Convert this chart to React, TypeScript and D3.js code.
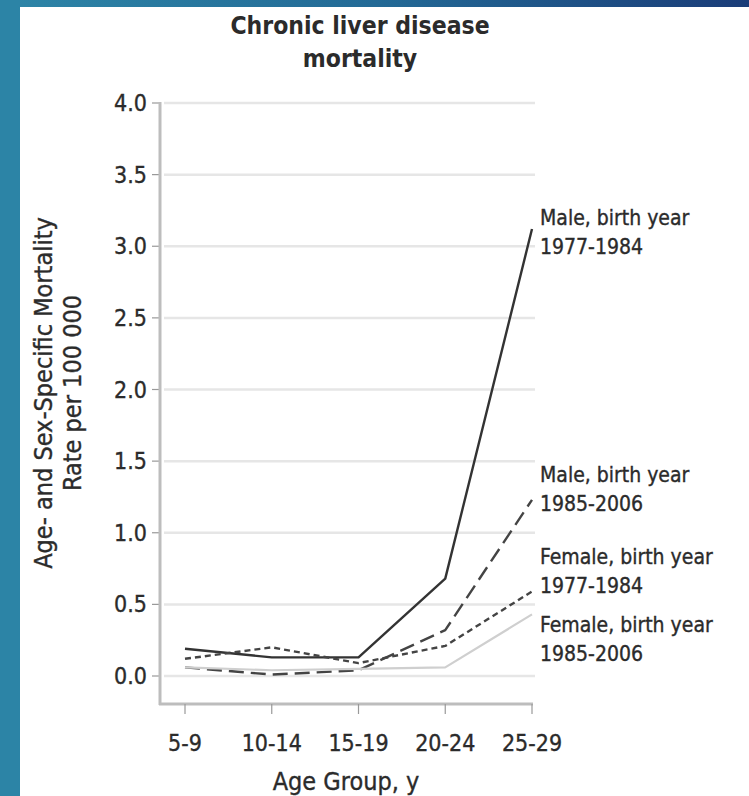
import React from "react";
import * as d3 from "d3";

const ageGroups = ["5-9", "10-14", "15-19", "20-24", "25-29"];
const male7784 = [0.19, 0.13, 0.13, 0.68, 3.12];
const male8506 = [0.06, 0.01, 0.04, 0.32, 1.23];
const female7784 = [0.12, 0.2, 0.09, 0.21, 0.59];
const female8506 = [0.06, 0.04, 0.05, 0.06, 0.43];
const yTicks = [0, 0.5, 1, 1.5, 2, 2.5, 3, 3.5, 4];
const seriesLabels = [
  ["Male, birth year", "1977-1984"],
  ["Male, birth year", "1985-2006"],
  ["Female, birth year", "1977-1984"],
  ["Female, birth year", "1985-2006"],
];

const W = 749;
const H = 796;
const FONT = "'DejaVu Sans Condensed', 'Liberation Sans Narrow', 'Open Sans', sans-serif";
const TXT = "#2b2b2b";

export default function App() {
  const x = d3.scalePoint<string>().domain(ageGroups).range([185, 532]);
  const y = d3.scaleLinear().domain([0, 4]).range([676, 103]);
  const yBottom = 704;
  const line = d3
    .line<number>()
    .x((_, i) => x(ageGroups[i]) as number)
    .y((v) => y(v));

  const series = [
    { data: male7784, stroke: "#333", width: 2.4, dash: "none" },
    { data: male8506, stroke: "#444", width: 2.4, dash: "15,7" },
    { data: female7784, stroke: "#444", width: 2.4, dash: "6,4" },
    { data: female8506, stroke: "#cfcfcf", width: 2.2, dash: "none" },
  ];
  const labelBase = [225, 482, 564, 632];
  const thick = { stroke: TXT, strokeWidth: 0.35 };

  return (
    <svg
      width={W}
      height={H}
      style={{ position: "absolute", left: 0, top: 0, background: "#fff" }}
      fontFamily={FONT}
    >
      <defs>
        <linearGradient id="topg" x1="0" x2="1" y1="0" y2="0">
          <stop offset="0" stopColor="#2d85a7" />
          <stop offset="0.5" stopColor="#236a96" />
          <stop offset="1" stopColor="#1a3c78" />
        </linearGradient>
      </defs>
      <rect x={0} y={0} width={W} height={7} fill="url(#topg)" />
      <rect x={0} y={0} width={20} height={H} fill="#2c84a6" />

      <text x={360} y={34} textAnchor="middle" fontSize={24.5} fontWeight="bold" fill={TXT}>
        Chronic liver disease
      </text>
      <text x={360} y={67} textAnchor="middle" fontSize={24.5} fontWeight="bold" fill={TXT}>
        mortality
      </text>

      {yTicks.map((t) => (
        <g key={t}>
          <line x1={164} x2={535} y1={y(t)} y2={y(t)} stroke="#e6e6e6" strokeWidth={2.5} />
          <line x1={152} x2={160} y1={y(t)} y2={y(t)} stroke="#999" strokeWidth={1.2} />
          <text x={147} y={y(t) + 8} textAnchor="end" fontSize={23} fill={TXT} {...thick}>
            {t.toFixed(1)}
          </text>
        </g>
      ))}

      <line x1={160} x2={160} y1={y(4) - 1} y2={yBottom + 1} stroke="#bdbdbd" strokeWidth={3} />
      <line x1={159} x2={533} y1={yBottom} y2={yBottom} stroke="#bdbdbd" strokeWidth={3} />
      {ageGroups.map((g) => (
        <g key={g}>
          <line x1={x(g)} x2={x(g)} y1={yBottom} y2={yBottom + 10} stroke="#999" strokeWidth={1.2} />
          <text x={x(g)} y={751} textAnchor="middle" fontSize={23} fill={TXT} {...thick}>
            {g}
          </text>
        </g>
      ))}
      <text x={346} y={790} textAnchor="middle" fontSize={25} fill={TXT} {...thick}>
        Age Group, y
      </text>

      <g transform="translate(52,393) rotate(-90)">
        <text x={0} y={0} textAnchor="middle" fontSize={25} fill={TXT} {...thick}>
          Age- and Sex-Specific Mortality
        </text>
        <text x={0} y={29} textAnchor="middle" fontSize={25} fill={TXT} {...thick}>
          Rate per 100 000
        </text>
      </g>

      {series.map((s, i) => (
        <path
          key={i}
          d={line(s.data) || ""}
          fill="none"
          stroke={s.stroke}
          strokeWidth={s.width}
          strokeDasharray={s.dash}
          strokeLinejoin="round"
        />
      ))}

      {seriesLabels.map((l, i) => (
        <g key={i}>
          <text x={540} y={labelBase[i]} fontSize={21} fill={TXT} {...thick}>
            {l[0]}
          </text>
          <text x={540} y={labelBase[i] + 29} fontSize={21} fill={TXT} {...thick}>
            {l[1]}
          </text>
        </g>
      ))}
    </svg>
  );
}
